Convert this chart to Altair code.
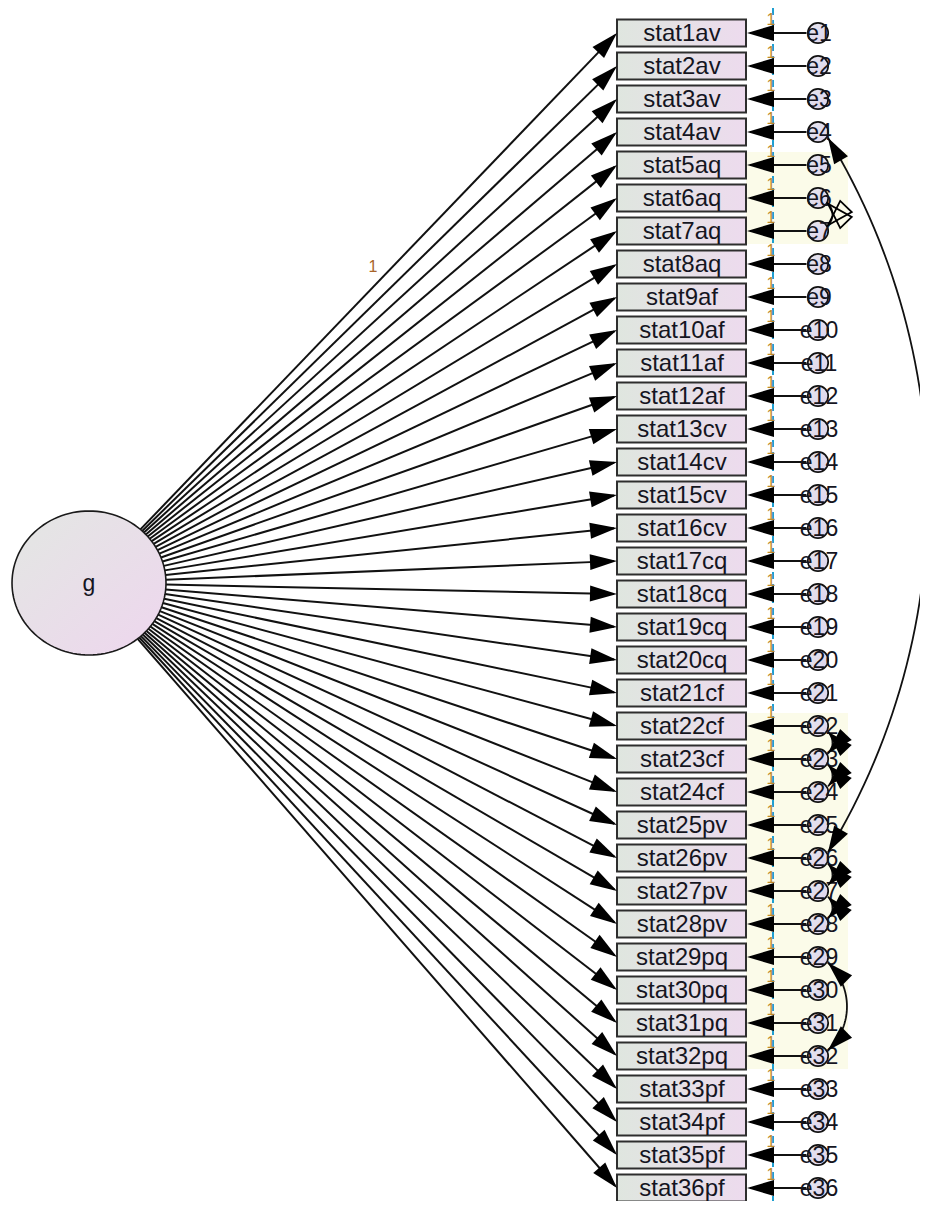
import math
import numpy as np
import pandas as pd
import altair as alt

# ---------------- data ----------------
latent = ["g"]
indicators = ["stat1av", "stat2av", "stat3av", "stat4av", "stat5aq", "stat6aq",
              "stat7aq", "stat8aq", "stat9af", "stat10af", "stat11af", "stat12af",
              "stat13cv", "stat14cv", "stat15cv", "stat16cv", "stat17cq", "stat18cq",
              "stat19cq", "stat20cq", "stat21cf", "stat22cf", "stat23cf", "stat24cf",
              "stat25pv", "stat26pv", "stat27pv", "stat28pv", "stat29pq", "stat30pq",
              "stat31pq", "stat32pq", "stat33pf", "stat34pf", "stat35pf", "stat36pf"]
errors = ["e1", "e2", "e3", "e4", "e5", "e6", "e7", "e8", "e9", "e10", "e11", "e12",
          "e13", "e14", "e15", "e16", "e17", "e18", "e19", "e20", "e21", "e22", "e23",
          "e24", "e25", "e26", "e27", "e28", "e29", "e30", "e31", "e32", "e33", "e34",
          "e35", "e36"]
loading_labels = ["1"] + [""] * 35          # first loading fixed to 1
error_weight_labels = ["1"] * 36            # every error path fixed to 1
covariances = [["e4", "e26"], ["e6", "e7"], ["e22", "e23"], ["e23", "e24"],
               ["e26", "e27"], ["e27", "e28"], ["e29", "e32"]]
hollow_covariances = [["e6", "e7"]]

# ---------------- layout ----------------
W, H = 912, 1193
ROW0, STEP = 33.0, 33.0
BOX_L, BOX_R, BOX_HH = 617.0, 746.0, 13.5
ERR_X, ERR_R = 818.0, 11.5
GX, GY, GRX, GRY = 89.0, 583.0, 77.0, 72.0
ATTACH = math.radians(30)

rows = [ROW0 + i * STEP for i in range(len(indicators))]
err_index = {e: i for i, e in enumerate(errors)}

XS = alt.Scale(domain=[8, 8 + W], nice=False, zero=False)
YS = alt.Scale(domain=[8, 8 + H], nice=False, zero=False, reverse=True)


def xq(f):
    return alt.X(f"{f}:Q", scale=XS, axis=None)


def yq(f):
    return alt.Y(f"{f}:Q", scale=YS, axis=None)


def deg(dx, dy):
    return math.degrees(math.atan2(dy, dx)) % 360


arrows = []      # filled arrow heads
hollow = []      # outlined arrow heads

# paths g -> indicators
path_rows = []
for i, name in enumerate(indicators):
    tx, ty = BOX_L, rows[i]
    dx, dy = tx - GX, ty - GY
    t = 1.0 / math.sqrt((dx / GRX) ** 2 + (dy / GRY) ** 2)
    sx, sy = GX + dx * t, GY + dy * t
    n = math.hypot(dx, dy)
    path_rows.append({"x1": sx, "y1": sy, "x2": tx - 3 * dx / n, "y2": ty - 3 * dy / n})
    arrows.append({"x": tx, "y": ty, "ang": deg(dx, dy), "kind": "big"})
path_df = pd.DataFrame(path_rows)

# error -> indicator paths
err_line_df = pd.DataFrame({"x1": [ERR_X - ERR_R] * 36, "x2": [BOX_R + 4] * 36,
                            "y1": rows, "y2": rows})
for i in range(36):
    arrows.append({"x": BOX_R + 1, "y": rows[i], "ang": 180.0, "kind": "big"})


# covariance arcs (circular arcs bulging to the right)
def circumcenter(p1, p2, p3):
    ax, ay = p1
    bx, by = p2
    cx, cy = p3
    d = 2 * (ax * (by - cy) + bx * (cy - ay) + cx * (ay - by))
    ux = ((ax ** 2 + ay ** 2) * (by - cy) + (bx ** 2 + by ** 2) * (cy - ay)
          + (cx ** 2 + cy ** 2) * (ay - by)) / d
    uy = ((ax ** 2 + ay ** 2) * (cx - bx) + (bx ** 2 + by ** 2) * (ax - cx)
          + (cx ** 2 + cy ** 2) * (bx - ax)) / d
    return ux, uy


def bulge_for(span):
    if span == 1:
        return 4.5
    if span <= 3:
        return 19.0
    return 100.0


arc_rows = []
for k, (ea, eb) in enumerate(covariances):
    ia, ib = err_index[ea], err_index[eb]
    span = ib - ia
    A = (ERR_X + ERR_R * math.cos(ATTACH), rows[ia] + ERR_R * math.sin(ATTACH))
    B = (ERR_X + ERR_R * math.cos(ATTACH), rows[ib] - ERR_R * math.sin(ATTACH))
    b = bulge_for(span)
    M = ((A[0] + B[0]) / 2 + b, (A[1] + B[1]) / 2)
    cx, cy = circumcenter(A, B, M)
    R = math.hypot(A[0] - cx, A[1] - cy)
    ta = math.atan2(A[1] - cy, A[0] - cx)
    tb = math.atan2(B[1] - cy, B[0] - cx)
    ts = np.linspace(ta, tb, 60)
    pts = [(cx + R * math.cos(t), cy + R * math.sin(t)) for t in ts]
    for j, (px, py) in enumerate(pts):
        arc_rows.append({"arc": k, "k": j, "x": px, "y": py})
    target = hollow if [ea, eb] in hollow_covariances else arrows
    (x0, y0), (x1, y1) = pts[0], pts[2]
    target.append({"x": x0, "y": y0, "ang": deg(x0 - x1, y0 - y1), "kind": "cov"})
    (x0, y0), (x1, y1) = pts[-1], pts[-3]
    target.append({"x": x0, "y": y0, "ang": deg(x0 - x1, y0 - y1), "kind": "cov"})
arc_df = pd.DataFrame(arc_rows)

arrow_df = pd.DataFrame(arrows)
hollow_df = pd.DataFrame(hollow)

box_df = pd.DataFrame({"name": indicators, "yc": rows})
box_df["x1"] = BOX_L
box_df["x2"] = BOX_R
box_df["y1"] = box_df["yc"] - BOX_HH
box_df["y2"] = box_df["yc"] + BOX_HH
box_df["xc"] = (BOX_L + BOX_R) / 2 + 0.5
box_df["yt"] = box_df["yc"] + 1

err_df = pd.DataFrame({"name": errors, "y": rows, "x": [ERR_X] * 36,
                       "xt": [ERR_X + 1] * 36, "yt": [r + 1 for r in rows]})

one_df = pd.DataFrame({"t": error_weight_labels, "x": [771.0] * 36,
                       "y": [r - 13 for r in rows]})
load_df = pd.DataFrame({"t": [loading_labels[0]], "x": [373.0], "y": [267.0]})

pale_df = pd.DataFrame({"x1": [BOX_R, BOX_R], "x2": [848.0, 848.0],
                        "y1": [rows[4] - 13, rows[21] - 13],
                        "y2": [rows[6] + 13, rows[31] + 13]})
dash_df = pd.DataFrame({"x": [773.0], "y1": [8.0], "y2": [8.0 + H]})

g_df = pd.DataFrame({"name": latent, "x": [GX], "y": [GY], "yt": [GY + 1]})

# shapes (size=4 -> 1 path unit == 1 pixel)
BIG_HEAD = "M0,0L-27,-8L-27,8Z"
COV_HEAD = "M0,0L-26,-8L-26,8Z"
ell = []
for a in np.linspace(0, 2 * math.pi, 120, endpoint=False):
    ell.append(f"{GRX * math.cos(a):.2f},{GRY * math.sin(a):.2f}")
ELLIPSE = "M" + "L".join(ell) + "Z"

box_grad = alt.LinearGradient(gradient="linear", x1=0, y1=0, x2=1, y2=0,
                              stops=[alt.GradientStop(color="#dfe6df", offset=0),
                                     alt.GradientStop(color="#eddbee", offset=1)])
g_grad = alt.LinearGradient(gradient="linear", x1=0, y1=0, x2=1, y2=1,
                            stops=[alt.GradientStop(color="#e3e7e3", offset=0),
                                   alt.GradientStop(color="#eed6ee", offset=1)])
e_grad = alt.LinearGradient(gradient="linear", x1=0, y1=0, x2=1, y2=1,
                            stops=[alt.GradientStop(color="#e6e6ee", offset=0),
                                   alt.GradientStop(color="#ddd3ec", offset=1)])

FONT = "Liberation Sans"
TXT = "#15151f"

pale = alt.Chart(pale_df).mark_rect(color="#fbfbe9").encode(
    x=xq("x1"), x2="x2", y=yq("y1"), y2="y2")
dash = alt.Chart(dash_df).mark_rule(color="#1f9fd0", strokeDash=[7, 5], strokeWidth=2).encode(
    x=xq("x"), y=yq("y1"), y2="y2")
paths = alt.Chart(path_df).mark_rule(color="#111111", strokeWidth=2).encode(
    x=xq("x1"), y=yq("y1"), x2="x2", y2="y2")
errl = alt.Chart(err_line_df).mark_rule(color="#111111", strokeWidth=2).encode(
    x=xq("x1"), y=yq("y1"), x2="x2", y2="y2")
arcs = alt.Chart(arc_df).mark_line(color="#111111", strokeWidth=1.8).encode(
    x=xq("x"), y=yq("y"), detail="arc:N", order="k:Q")
ellipse = alt.Chart(g_df).mark_point(shape=ELLIPSE, size=4, filled=True, fill=g_grad,
                                     stroke="#1a1a1a", strokeWidth=1.6, opacity=1).encode(
    x=xq("x"), y=yq("y"))
g_text = alt.Chart(g_df).mark_text(font=FONT, fontSize=23, color=TXT).encode(
    x=xq("x"), y=yq("yt"), text="name:N")
boxes = alt.Chart(box_df).mark_rect(fill=box_grad, stroke="#2e2e2e", strokeWidth=2).encode(
    x=xq("x1"), x2="x2", y=yq("y1"), y2="y2")
box_text = alt.Chart(box_df).mark_text(font=FONT, fontSize=24, color=TXT).encode(
    x=xq("xc"), y=yq("yt"), text="name:N")
circles = alt.Chart(err_df).mark_point(shape="circle", size=math.pi * ERR_R ** 2, filled=True,
                                       fill=e_grad, stroke="#111111", strokeWidth=1.7,
                                       opacity=1).encode(x=xq("x"), y=yq("y"))
err_text = alt.Chart(err_df).mark_text(font=FONT, fontSize=23, color=TXT).encode(
    x=xq("xt"), y=yq("yt"), text="name:N")
ones = alt.Chart(one_df).mark_text(font=FONT, fontSize=16, color="#c08a2a").encode(
    x=xq("x"), y=yq("y"), text="t:N")
load_txt = alt.Chart(load_df).mark_text(font=FONT, fontSize=16, color="#a8642a").encode(
    x=xq("x"), y=yq("y"), text="t:N")
heads_big = alt.Chart(arrow_df[arrow_df.kind == "big"]).mark_point(
    shape=BIG_HEAD, size=4, filled=True, color="#000000", opacity=1, strokeWidth=0).encode(
    x=xq("x"), y=yq("y"), angle=alt.Angle("ang:Q", scale=None))
heads_cov = alt.Chart(arrow_df[arrow_df.kind == "cov"]).mark_point(
    shape=COV_HEAD, size=4, filled=True, color="#000000", opacity=1, strokeWidth=0).encode(
    x=xq("x"), y=yq("y"), angle=alt.Angle("ang:Q", scale=None))
heads_hollow = alt.Chart(hollow_df).mark_point(
    shape=COV_HEAD, size=4, filled=False, color="#000000", opacity=1, strokeWidth=1.8).encode(
    x=xq("x"), y=yq("y"), angle=alt.Angle("ang:Q", scale=None))

chart = alt.layer(
    pale, dash, paths, errl, arcs, ellipse, g_text, boxes, box_text, circles, err_text,
    ones, load_txt, heads_big, heads_cov, heads_hollow
).properties(
    width=W, height=H, padding=0, background="white",
    autosize=alt.AutoSizeParams(type="none")
).configure_view(strokeWidth=0, stroke="transparent")

chart.save("out.html", embed_options={"renderer": "svg", "actions": False})
